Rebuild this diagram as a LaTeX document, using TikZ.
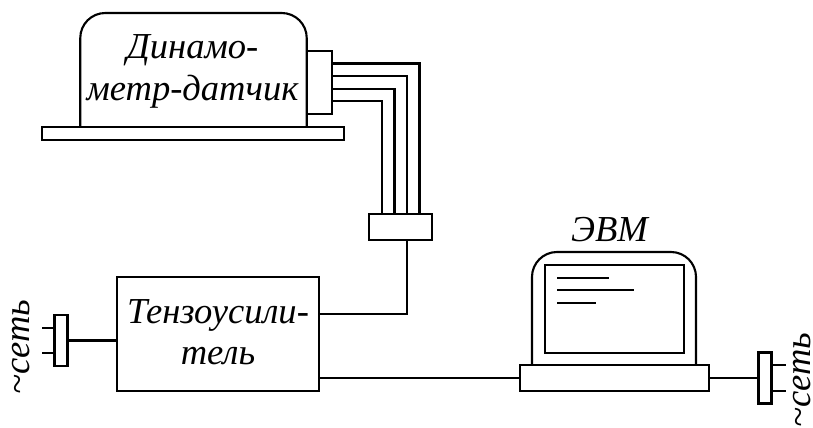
\documentclass[tikz,border=0pt]{standalone}
\usepackage{fontspec}
\setmainfont{Liberation Serif}
\usetikzlibrary{positioning}

\tikzset{
    unit/.style={draw,line width=1.5pt,inner sep=0pt,outer sep=0pt},
    wire/.style={line width=1.5pt},
    caption/.style={font=\fontsize{26}{31}\selectfont\itshape,align=center,inner sep=0pt}
}

\begin{document}
\begin{tikzpicture}[x=0.025cm,y=-0.025cm]
    \useasboundingbox (0,0) rectangle (813,427);
    % dynamometer
    \node[minimum width=5.66cm,minimum height=2.85cm,inner sep=0pt,outer sep=0pt] (dyn) at (193.5,70) {};
    \node[caption] (dynlabel) at (192.5,71.5) {Динамо-\\[-1.7pt]метр-датчик};
    \draw[wire,rounded corners=17.8pt] (dyn.south west) |- (dyn.north) -| (dyn.south east);
    \node[unit,minimum width=7.55cm,minimum height=0.325cm] (plate) at (193,133.5) {};
    \node[unit,minimum width=0.625cm,minimum height=1.575cm] (dynplug) at (319.5,82.5) {};
    \node[unit,minimum width=1.58cm,minimum height=0.65cm] (joint) at (400.5,227) {};
    \foreach \y/\x in {63.5/419.5,76/407,89/394.5,101/382}
        \draw[wire] (dynplug.east |- 0,\y) -| (joint.north -| \x,0);
    % amplifier
    \node[unit,minimum width=5.05cm,minimum height=2.85cm] (amp) at (218,334) {};
    \node[caption] (amplabel) at (218,332.5) {Тензоусили-\\[-1.7pt]тель};
    \draw[wire] (joint.south -| 407,0) |- (amp.east |- 0,314);
    \node[unit,minimum width=0.325cm,minimum height=1.275cm] (lplug) at (61,340.5) {};
    \draw[wire] (lplug.east) -- (amp.west |- lplug.east);
    \foreach \y in {328,353}
        \draw[wire] (lplug.west |- 0,\y) -- +(-12.5,0);
    \node[caption,rotate=90] (lnet) at (21,347) {\textasciitilde сеть};
    % computer
    \node[unit,minimum width=4.725cm,minimum height=0.65cm] (pcbase) at (614.5,378) {};
    \node[minimum width=4.1cm,minimum height=2.825cm,inner sep=0pt,outer sep=0pt] (pc) at (614,308.5) {};
    \draw[wire,rounded corners=17.8pt] (pc.south west) |- (pc.north) -| (pc.south east);
    \node[unit,minimum width=3.475cm,minimum height=2.2cm] (screen) at (614.5,309) {};
    \foreach \y/\len in {277.7/52,290/77,303/39}
        \draw[wire] (557,\y) -- +(\len,0);
    \node[caption] (pclabel) at (609.5,230) {ЭВМ};
    \draw[wire] (amp.east |- pcbase.west) -- (pcbase.west);
    \node[unit,minimum width=0.325cm,minimum height=1.275cm] (rplug) at (765,378) {};
    \draw[wire] (pcbase.east) -- (rplug.west);
    \foreach \y in {365,391}
        \draw[wire] (rplug.east |- 0,\y) -- +(14,0);
    \node[caption,rotate=90] (rnet) at (802.5,380) {\textasciitilde сеть};
\end{tikzpicture}
\end{document}
